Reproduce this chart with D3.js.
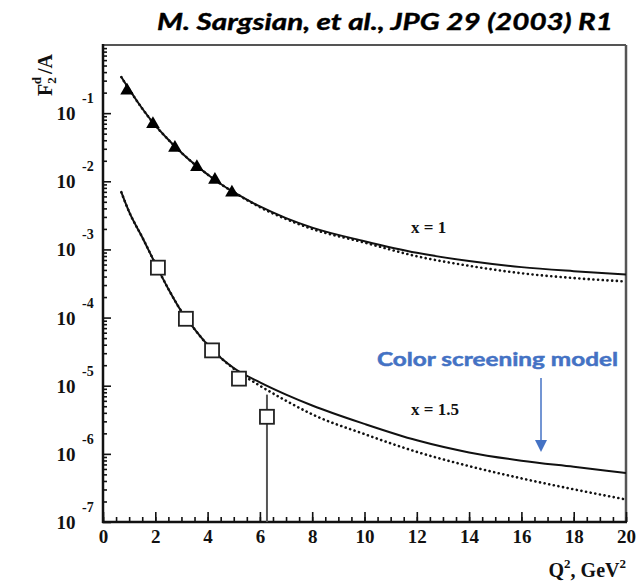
<!DOCTYPE html>
<html>
<head>
<meta charset="utf-8">
<script src="https://cdn.jsdelivr.net/npm/d3@7"></script>
<style>
  html, body { margin: 0; padding: 0; background: #fff; }
  svg { display: block; }
</style>
</head>
<body>
<svg id="chart" width="638" height="585"></svg>
<script>
// Q^2 grid (GeV^2) on which the model curves are tabulated
const q2Grid = [0.7, 1, 1.5, 2, 2.5, 3, 3.5, 4, 4.5, 5, 6, 7, 8, 10, 12, 14, 16, 18, 20];

// F2^d / A, x = 1 : full model (solid) and without colour screening (dotted)
const x1Solid  = [0.339, 0.224, 0.117, 0.0661, 0.0407, 0.0263, 0.0178, 0.0126, 0.00912, 0.00692,
                  0.00427, 0.00288, 0.00209, 0.00132, 8.91e-4, 6.76e-4, 5.50e-4, 4.79e-4, 4.27e-4];
const x1Dotted = [0.339, 0.224, 0.117, 0.0661, 0.0407, 0.0263, 0.0178, 0.0126, 0.00912, 0.00692,
                  0.00417, 0.00279, 0.00200, 0.00126, 7.94e-4, 5.75e-4, 4.47e-4, 3.80e-4, 3.39e-4];

// F2^d / A, x = 1.5
const x15Solid  = [6.92e-3, 3.55e-3, 1.51e-3, 6.17e-4, 2.63e-4, 1.23e-4, 6.76e-5, 3.98e-5, 2.57e-5, 1.82e-5,
                   1.12e-5, 7.41e-6, 5.13e-6, 2.75e-6, 1.58e-6, 1.05e-6, 7.94e-7, 6.46e-7, 5.25e-7];
const x15Dotted = [6.92e-3, 3.55e-3, 1.51e-3, 6.17e-4, 2.63e-4, 1.23e-4, 6.76e-5, 3.98e-5, 2.57e-5, 1.78e-5,
                   1.00e-5, 6.03e-6, 3.80e-6, 1.95e-6, 1.07e-6, 6.61e-7, 4.37e-7, 3.02e-7, 2.14e-7];

// Measured points
const x1DataQ2  = [0.92, 1.91, 2.75, 3.59, 4.28, 4.93];
const x1DataF2  = [0.215, 0.069, 0.031, 0.0162, 0.0105, 0.0068];
const x15DataQ2 = [2.10, 3.17, 4.17, 5.20, 6.27];
const x15DataF2 = [5.4e-4, 9.6e-5, 3.3e-5, 1.27e-5, 3.5e-6];
const x15ErrHi  = [null, null, null, null, 7.4e-6];
const x15ErrLo  = [null, null, null, null, 1e-8];

// Axis ticks
const xMajorTicks = [0, 2, 4, 6, 8, 10, 12, 14, 16, 18, 20];
const yExponents  = [-1, -2, -3, -4, -5, -6, -7];

const svg = d3.select("#chart");
const plotL = 103, plotR = 626, plotT = 45, plotB = 522;

const x = d3.scaleLinear().domain([0, 20]).range([plotL, plotR]);
const y = d3.scaleLog().domain([1e-7, 1]).range([plotB, plotT]);

const serif = "'Liberation Serif', 'Times New Roman', serif";

svg.append("defs").append("clipPath").attr("id", "plotClip")
  .append("rect").attr("x", plotL).attr("y", plotT).attr("width", plotR - plotL).attr("height", plotB - plotT);

// Frame: top and right borders
svg.append("line").attr("x1", plotL).attr("x2", plotR).attr("y1", plotT).attr("y2", plotT)
  .attr("stroke", "#555").attr("stroke-width", 1.8);
svg.append("line").attr("x1", plotR).attr("x2", plotR).attr("y1", plotT).attr("y2", plotB)
  .attr("stroke", "#555").attr("stroke-width", 2.5);

// X axis: minor ticks every 0.5, major every 2, all pointing into the plot
const xMinor = svg.append("g").attr("transform", `translate(0,${plotB})`)
  .call(d3.axisBottom(x).tickValues(d3.range(0, 20.001, 0.5)).tickSize(-5).tickFormat(""));
const xMajor = svg.append("g").attr("transform", `translate(0,${plotB})`)
  .call(d3.axisBottom(x).tickValues(xMajorTicks).tickSize(-10).tickFormat(d3.format("d")));
[xMinor, xMajor].forEach(g => {
  g.select(".domain").remove();
  g.selectAll(".tick line").attr("stroke", "#111").attr("stroke-width", 1.6);
});
xMajor.selectAll(".tick text")
  .attr("y", 21).attr("dy", 0)
  .attr("font-family", serif).attr("font-weight", "bold").attr("font-size", 19)
  .attr("fill", "#111");

// Y axis: log ticks, majors at each decade
const yMinorVals = [];
for (let e = -7; e < 0; e++) for (let m = 2; m <= 9; m++) yMinorVals.push(m * Math.pow(10, e));
const yMinor = svg.append("g").attr("transform", `translate(${plotL},0)`)
  .call(d3.axisLeft(y).tickValues(yMinorVals).tickSize(-4).tickFormat(""));
const yMajor = svg.append("g").attr("transform", `translate(${plotL},0)`)
  .call(d3.axisLeft(y).tickValues(yExponents.map(e => Math.pow(10, e))).tickSize(-8).tickFormat(""));
[yMinor, yMajor].forEach(g => {
  g.select(".domain").remove();
  g.selectAll(".tick line").attr("stroke", "#111").attr("stroke-width", 1.6);
});

// Decade labels: "10" with a raised exponent
const yLab = svg.append("g").attr("font-family", serif).attr("font-weight", "bold").attr("fill", "#111");
yExponents.forEach(e => {
  const py = y(Math.pow(10, e));
  yLab.append("text").attr("x", 75.5).attr("y", py + 7).attr("text-anchor", "end")
    .attr("font-size", 19).text("10");
  yLab.append("text").attr("x", 82).attr("y", py - 10).attr("text-anchor", "start")
    .attr("font-size", 14).text(String(e));
});

// Axis lines (left and bottom)
svg.append("line").attr("x1", plotL).attr("x2", plotL).attr("y1", plotT - 1).attr("y2", plotB + 1)
  .attr("stroke", "#111").attr("stroke-width", 2.5);
svg.append("line").attr("x1", plotL - 1).attr("x2", plotR + 1).attr("y1", plotB).attr("y2", plotB)
  .attr("stroke", "#111").attr("stroke-width", 2.5);

// Model curves
const plot = svg.append("g").attr("clip-path", "url(#plotClip)");
const line = d3.line().x(d => x(d[0])).y(d => y(d[1])).curve(d3.curveMonotoneX);
const series = [
  { v: x1Solid,   dotted: false },
  { v: x1Dotted,  dotted: true },
  { v: x15Solid,  dotted: false },
  { v: x15Dotted, dotted: true }
];
series.forEach(s => {
  const p = plot.append("path")
    .datum(q2Grid.map((q, i) => [q, s.v[i]]))
    .attr("d", line).attr("fill", "none").attr("stroke", "#111");
  if (s.dotted) {
    p.attr("stroke-width", 2.6).attr("stroke-dasharray", "0.1,4.6").attr("stroke-linecap", "round");
  } else {
    p.attr("stroke-width", 2);
  }
});

// Error bars on x = 1.5 data
x15DataQ2.forEach((q, i) => {
  if (x15ErrHi[i] == null) return;
  plot.append("line")
    .attr("x1", x(q)).attr("x2", x(q))
    .attr("y1", y(x15ErrHi[i])).attr("y2", y(x15ErrLo[i]))
    .attr("stroke", "#555").attr("stroke-width", 2);
});

// x = 1 data: filled triangles
svg.append("g").selectAll("path")
  .data(x1DataQ2.map((q, i) => [q, x1DataF2[i]]))
  .join("path")
  .attr("transform", d => `translate(${x(d[0])},${y(d[1])})`)
  .attr("d", d3.symbol(d3.symbolTriangle, 80))
  .attr("fill", "#000");

// x = 1.5 data: open squares
const sq = 14;
svg.append("g").selectAll("rect")
  .data(x15DataQ2.map((q, i) => [q, x15DataF2[i]]))
  .join("rect")
  .attr("x", d => x(d[0]) - sq / 2).attr("y", d => y(d[1]) - sq / 2)
  .attr("width", sq).attr("height", sq)
  .attr("fill", "#fff").attr("stroke", "#222").attr("stroke-width", 1.8);

// Curve labels
svg.append("text").attr("x", 411).attr("y", 233)
  .attr("font-family", serif).attr("font-weight", "bold").attr("font-size", 17).attr("fill", "#111")
  .text("x = 1");
svg.append("text").attr("x", 411).attr("y", 415)
  .attr("font-family", serif).attr("font-weight", "bold").attr("font-size", 17).attr("fill", "#111")
  .text("x = 1.5");

// Axis titles
const yTitle = svg.append("text")
  .attr("transform", "translate(52,96) rotate(-90)")
  .attr("font-family", serif).attr("font-weight", "bold").attr("font-size", 20).attr("fill", "#111");
yTitle.append("tspan").text("F");
yTitle.append("tspan").attr("font-size", 13).attr("dy", 4).text("2");
yTitle.append("tspan").attr("font-size", 13).attr("dx", -7).attr("dy", -15).text("d");
yTitle.append("tspan").attr("dy", 11).attr("dx", 3).text("/A");

const xTitle = svg.append("text")
  .attr("x", 626).attr("y", 577).attr("text-anchor", "end")
  .attr("font-family", serif).attr("font-weight", "bold").attr("font-size", 20).attr("fill", "#111");
xTitle.append("tspan").text("Q");
xTitle.append("tspan").attr("font-size", 13).attr("dy", -9).text("2");
xTitle.append("tspan").attr("dy", 9).text(", GeV");
xTitle.append("tspan").attr("font-size", 13).attr("dy", -9).text("2");

// Citation
svg.append("text").attr("x", 157).attr("y", 30)
  .attr("font-family", "Lato, 'Open Sans', sans-serif").attr("font-weight", "bold")
  .attr("font-style", "italic").attr("font-size", 23).attr("fill", "#000")
  .attr("stroke", "#000").attr("stroke-width", 0.4)
  .attr("textLength", 456).attr("lengthAdjust", "spacingAndGlyphs")
  .text("M. Sargsian, et al., JPG 29 (2003) R1");

// Annotation with arrow
const blue = "#4472C4";
svg.append("text").attr("x", 377).attr("y", 366)
  .attr("font-family", "Lato, 'Open Sans', sans-serif").attr("font-weight", "bold")
  .attr("font-size", 19.5).attr("fill", blue)
  .attr("stroke", blue).attr("stroke-width", 0.5)
  .attr("textLength", 241).attr("lengthAdjust", "spacingAndGlyphs")
  .text("Color screening model");
svg.append("line").attr("x1", 541).attr("x2", 541).attr("y1", 378).attr("y2", 441)
  .attr("stroke", blue).attr("stroke-width", 1.5);
svg.append("path").attr("d", "M535,440 L547,440 L541,452 Z").attr("fill", blue);
</script>
</body>
</html>
